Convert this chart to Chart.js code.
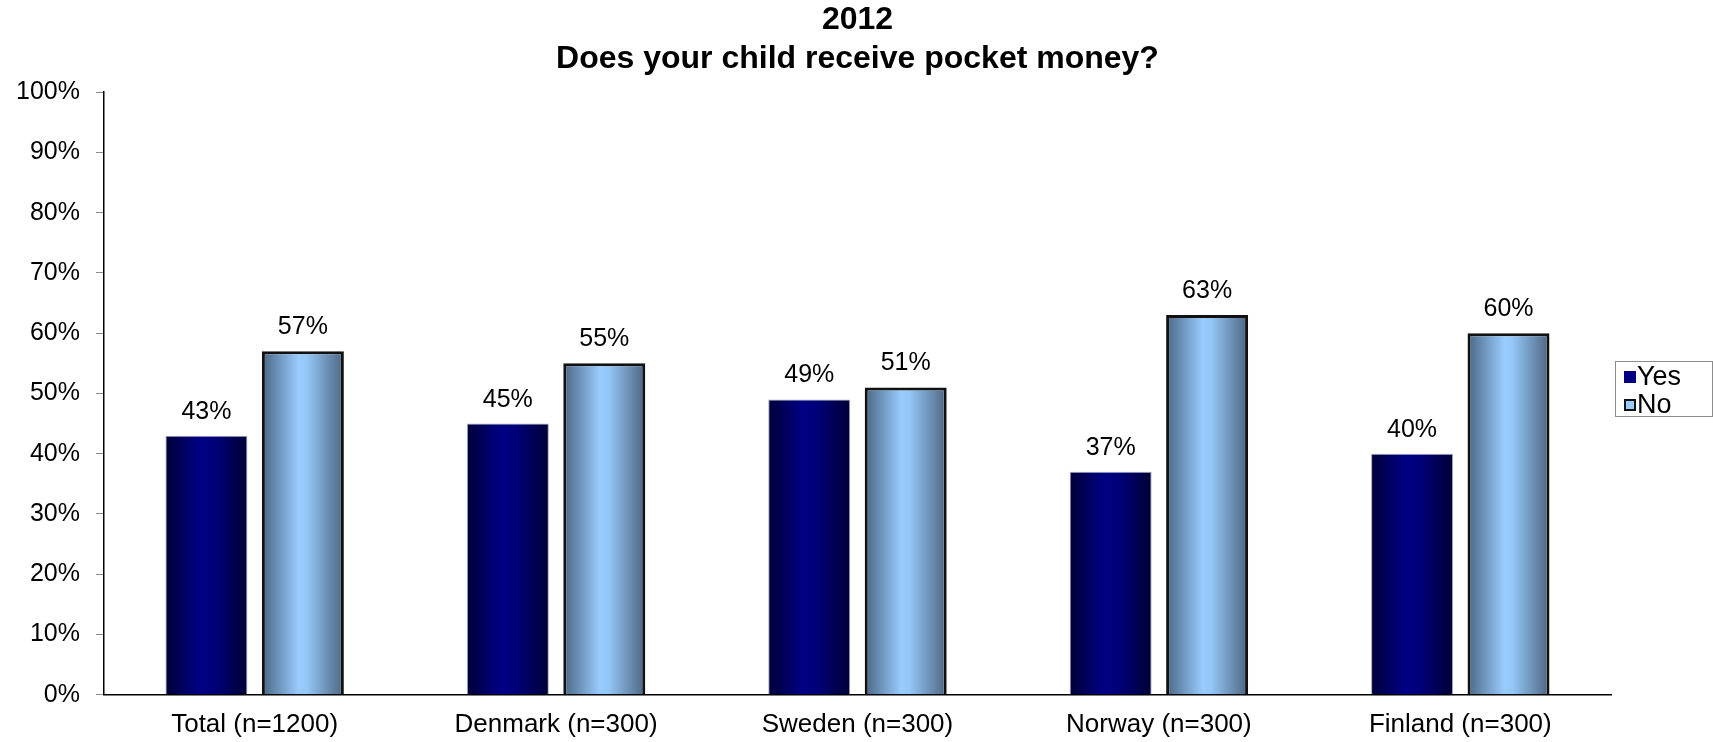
<!DOCTYPE html>
<html>
<head>
<meta charset="utf-8">
<script src="https://cdn.jsdelivr.net/npm/chart.js@4/dist/chart.umd.min.js"></script>
<style>
  html, body { margin: 0; padding: 0; background: #fff; }
  #wrap { width: 1713px; height: 742px; position: relative; }
</style>
</head>
<body>
<div id="wrap"><canvas id="pocket-money-chart"></canvas></div>
<script>
var categories = ['Total (n=1200)', 'Denmark (n=300)', 'Sweden (n=300)', 'Norway (n=300)', 'Finland (n=300)'];
var yesValues = [43, 45, 49, 37, 40];
var noValues = [57, 55, 51, 63, 60];
var yTicks = [0, 10, 20, 30, 40, 50, 60, 70, 80, 90, 100];

var FONT = '"Liberation Sans", Arial, sans-serif';
var CAT_PCT = 0.64;
var BAR_PCT = 0.85;

// ====Horizontal shading for each bar (dark edges, light middle)====
function barShade(stops, flat) {
    return function (c) {
        var chart = c.chart;
        if (!chart.chartArea || c.dataIndex === undefined) return flat;
        var xs = chart.scales.x;
        var slot = (xs.width / categories.length) * CAT_PCT / 2;
        var w = slot * BAR_PCT;
        var cx = xs.getPixelForValue(c.dataIndex) + (c.datasetIndex - 0.5) * slot;
        var g = chart.ctx.createLinearGradient(cx - w / 2, 0, cx + w / 2, 0);
        stops.forEach(function (s) { g.addColorStop(s[0], s[1]); });
        return g;
    };
}

var yesShade = barShade([[0, '#000038'], [0.42, '#000085'], [0.6, '#000078'], [1, '#000035']], '#000080');
var noShade = barShade([[0, '#4a6684'], [0.45, '#99ccff'], [0.55, '#94c6f7'], [1, '#4d6580']], '#99ccff');

// ====Value labels above the bars====
var valueLabels = {
    id: 'valueLabels',
    afterDatasetsDraw: function (chart) {
        var ctx = chart.ctx;
        ctx.save();
        ctx.font = '25px ' + FONT;
        ctx.fillStyle = '#000';
        ctx.textAlign = 'center';
        ctx.textBaseline = 'alphabetic';
        chart.data.datasets.forEach(function (ds, i) {
            chart.getDatasetMeta(i).data.forEach(function (bar, j) {
                ctx.fillText(ds.data[j] + '%', bar.x, bar.y - 17);
            });
        });
        ctx.restore();
    }
};

// ====Framed legend on the right====
var legendFrame = {
    id: 'legendFrame',
    afterDraw: function (chart) {
        var ctx = chart.ctx, area = chart.chartArea;
        var w = 97, h = 55;
        var x = area.right + 4;
        var y = Math.round((area.top + area.bottom) / 2 - 32);
        ctx.save();
        ctx.strokeStyle = '#8c8c8c';
        ctx.lineWidth = 1;
        ctx.strokeRect(x + 0.5, y + 0.5, w, h);
        ctx.font = '27px ' + FONT;
        ctx.textBaseline = 'middle';
        ctx.textAlign = 'left';
        chart.data.datasets.forEach(function (ds, i) {
            var cy = y + 16 + i * 28;
            ctx.fillStyle = ds.legendColor;
            ctx.fillRect(x + 9, cy - 6, 12, 12);
            if (ds.legendBorder) {
                ctx.strokeStyle = ds.legendBorder;
                ctx.lineWidth = 2;
                ctx.strokeRect(x + 10, cy - 5, 10, 10);
            }
            ctx.fillStyle = '#000';
            ctx.fillText(ds.label, x + 22, cy + 1);
        });
        ctx.restore();
    }
};

var pocketMoneyCtx = document.getElementById('pocket-money-chart').getContext('2d');

var pocketMoneyChart = new Chart(pocketMoneyCtx, {
    type: 'bar',
    data: {
        labels: categories,
        datasets: [{
            label: 'Yes',
            data: yesValues,
            backgroundColor: yesShade,
            borderColor: '#a4a4c4',
            borderWidth: 1,
            legendColor: '#000080',
            categoryPercentage: CAT_PCT,
            barPercentage: BAR_PCT
        }, {
            label: 'No',
            data: noValues,
            backgroundColor: noShade,
            borderColor: '#111',
            borderWidth: 3,
            legendColor: '#99ccff',
            legendBorder: '#111',
            categoryPercentage: CAT_PCT,
            barPercentage: BAR_PCT
        }]
    },
    options: {
        responsive: true,
        maintainAspectRatio: false,
        animation: false,
        devicePixelRatio: 1,
        layout: { padding: { left: 0, right: 102, top: 0, bottom: -12 } },
        plugins: {
            legend: { display: false },
            tooltip: { enabled: false },
            title: {
                display: true,
                fullSize: false,
                text: ['2012', 'Does your child receive pocket money?'],
                color: '#000',
                font: { family: FONT, size: 32, weight: 'bold', lineHeight: 1.22 },
                padding: { top: 1, bottom: 13 }
            }
        },
        scales: {
            x: {
                grid: { display: false, drawTicks: false },
                border: { display: true, color: '#000', width: 1.5 },
                ticks: { color: '#000', padding: 14, font: { family: FONT, size: 26 }, maxRotation: 0 }
            },
            y: {
                min: 0,
                max: 100,
                afterBuildTicks: function (axis) {
                    axis.ticks = yTicks.map(function (v) { return { value: v }; });
                },
                grid: { drawOnChartArea: false, drawTicks: true, tickLength: 8, color: '#8c8c8c' },
                border: { display: true, color: '#000', width: 1.5 },
                ticks: {
                    color: '#000',
                    padding: 16,
                    font: { family: FONT, size: 25 },
                    callback: function (v) { return v + '%'; }
                }
            }
        }
    },
    plugins: [valueLabels, legendFrame]
});
</script>
</body>
</html>
